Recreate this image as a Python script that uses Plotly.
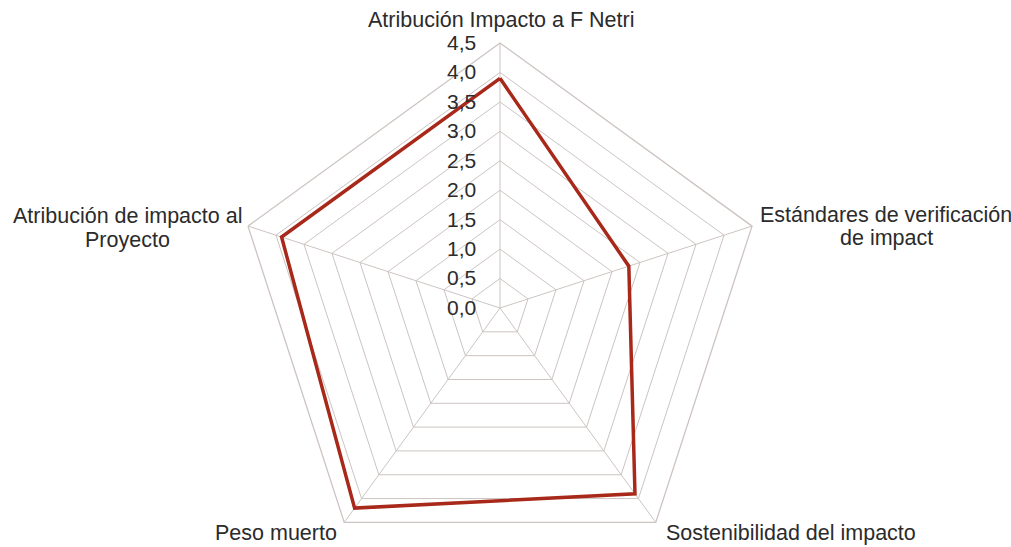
import plotly.graph_objects as go

categories = [
    "Atribución Impacto a F Netri",
    "Estándares de verificación<br>de impact",
    "Sostenibilidad del impacto",
    "Peso muerto",
    "Atribución de impacto al<br>Proyecto",
]
values = [3.9, 2.3, 3.9, 4.2, 3.9]
radial_ticks = [0.0, 0.5, 1.0, 1.5, 2.0, 2.5, 3.0, 3.5, 4.0, 4.5]

W, H = 1011, 575  # figure is a bit taller than the window; overflow is hidden
# caption centre positions (pixels) for the category labels
label_px = [(501, 20), (886, 226), (791, 533), (276, 533), (127, 228)]
LINE_PITCH = 23

fig = go.Figure()
fig.add_trace(go.Scatterpolar(
    r=values + values[:1],
    theta=categories + categories[:1],
    mode="lines",
    line=dict(color="#a82819", width=3.5),
    showlegend=False,
    hoverinfo="skip",
))

annotations = []
for cat, (px, py) in zip(categories, label_px):
    lines = cat.split("<br>")
    n = len(lines)
    for i, ln in enumerate(lines):
        yy = py + (i - (n - 1) / 2) * LINE_PITCH
        annotations.append(dict(
            text=ln, x=px / W, y=1 - yy / H, xref="paper", yref="paper",
            xanchor="center", yanchor="middle", align="center", showarrow=False,
            font=dict(size=21.5, color="#2b2b2b"),
        ))

grid_color = "#ccc4c1"
fig.update_layout(
    width=W,
    height=H,
    margin=dict(l=0, r=0, t=0, b=0),
    paper_bgcolor="white",
    plot_bgcolor="white",
    separators=",.",
    font=dict(family="Liberation Sans, Arial, sans-serif", size=21, color="#2b2b2b"),
    annotations=annotations,
    polar=dict(
        domain=dict(x=[235 / W, 765 / W], y=[1 - 573 / H, 1 - 43 / H]),
        bgcolor="white",
        gridshape="linear",
        radialaxis=dict(
            range=[0, 4.5],
            tickvals=radial_ticks,
            tickformat=".1f",
            angle=90,
            side="counterclockwise",
            tickangle=90,
            showline=False,
            ticks="outside",
            ticklen=16,
            tickcolor="rgba(0,0,0,0)",
            gridcolor=grid_color,
            gridwidth=1.3,
            tickfont=dict(size=21, color="#2b2b2b"),
        ),
        angularaxis=dict(
            rotation=90,
            direction="clockwise",
            showline=True,
            linecolor=grid_color,
            linewidth=1.3,
            gridcolor=grid_color,
            gridwidth=1.3,
            ticks="",
            showticklabels=False,
        ),
    ),
)

fig.write_html(
    "out.html",
    config={"displayModeBar": False},
    post_script="document.documentElement.style.overflow='hidden';document.body.style.overflow='hidden';document.body.style.margin='0';",
)
